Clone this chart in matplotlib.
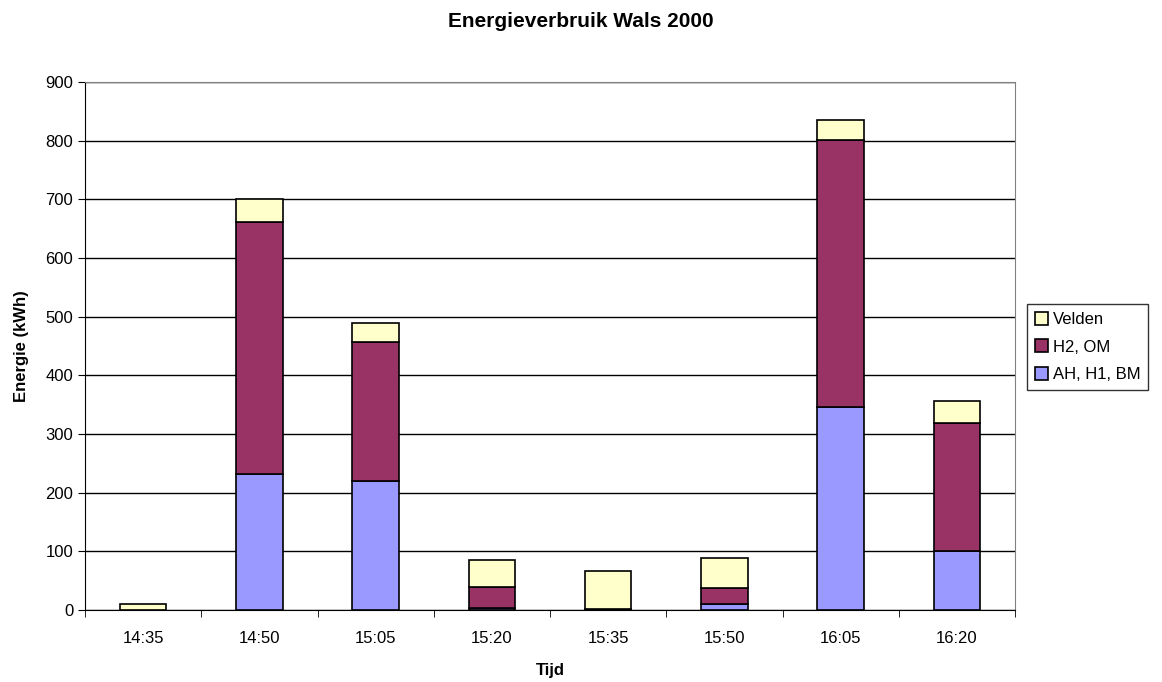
import numpy as np
import matplotlib.pyplot as plt

plt.rcParams['font.family'] = ['Liberation Sans', 'DejaVu Sans']

tijden = ["14:35", "14:50", "15:05", "15:20", "15:35", "15:50", "16:05", "16:20"]
ah_h1_bm = [0, 232, 220, 3, 1, 10, 346, 100]
h2_om = [0, 429, 236, 36, 1, 28, 455, 218]
velden = [10, 39, 34, 47, 64, 50, 34, 38]

series = [
    ("AH, H1, BM", ah_h1_bm, "#9999FF"),
    ("H2, OM", h2_om, "#993366"),
    ("Velden", velden, "#FFFFCC"),
]

fig = plt.figure(figsize=(11.62, 6.82), dpi=100)
ax = fig.add_axes([85 / 1162, 72 / 682, 930 / 1162, 528 / 682])

x = np.arange(len(tijden))
bottom = np.zeros(len(tijden))
handles = []
for name, vals, color in series:
    b = ax.bar(x, vals, width=0.4, bottom=bottom, color=color,
               edgecolor="black", linewidth=1.2, label=name, zorder=3)
    handles.append(b)
    bottom += np.array(vals)

ax.set_xlim(-0.5, len(tijden) - 0.5)
ax.set_ylim(0, 900)
ax.set_yticks(np.arange(0, 901, 100))
ax.yaxis.grid(True, color="black", linewidth=1, zorder=0)
ax.set_axisbelow(True)

ax.set_xticks(x)
ax.set_xticklabels(tijden, fontsize=12)
ax.set_xticks(np.arange(-0.5, len(tijden)), minor=True)
ax.tick_params(axis="x", which="major", length=0, pad=15)
ax.tick_params(axis="x", which="minor", length=5, color="black")
ax.tick_params(axis="y", labelsize=12, length=5, direction="out")

for side in ("top", "right"):
    ax.spines[side].set_color("#808080")
ax.spines["left"].set_color("black")
ax.spines["bottom"].set_color("black")

ax.set_xlabel("Tijd", fontsize=12, fontweight="bold", labelpad=12)
ax.set_ylabel("Energie (kWh)", fontsize=12, fontweight="bold", labelpad=12)
fig.suptitle("Energieverbruik Wals 2000", fontsize=15, fontweight="bold", y=0.982)

# legend box sits right of the plot, vertically centred on it
leg = fig.legend(handles[::-1], [s[0] for s in series][::-1],
                 loc="center left", bbox_to_anchor=(1027 / 1162, (682 - 347) / 682),
                 fontsize=12, frameon=True, fancybox=False, edgecolor="black",
                 handlelength=0.8, handleheight=0.8, handletextpad=0.3,
                 borderpad=0.45, labelspacing=0.75, borderaxespad=0)
leg.get_frame().set_linewidth(1)

fig.savefig("out.png", dpi=100)
